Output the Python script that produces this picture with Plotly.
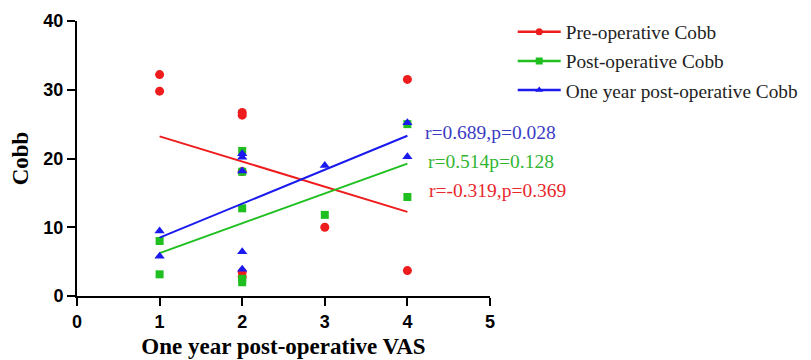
import numpy as np
import plotly.graph_objects as go

# One year post-operative VAS for each of the 10 patients
vas = [1, 1, 2, 2, 2, 2, 2, 3, 4, 4]

pre_cobb = [32.2, 29.8, 26.7, 26.3, 18.1, 3.5, 2.8, 10.0, 31.5, 3.7]
post_cobb = [8.0, 3.15, 21.1, 18.07, 12.75, 2.5, 2.0, 11.8, 25.0, 14.4]
year_cobb = [9.45, 5.8, 20.2, 18.2, 6.45, 3.9, 20.7, 19.0, 25.2, 20.25]

series_names = ["Pre-operative Cobb", "Post-operative Cobb", "One year post-operative Cobb"]
series_values = [pre_cobb, post_cobb, year_cobb]
series_colors = ["#ee1c1c", "#1fbf1f", "#1a1aee"]
text_colors = ["#e8282d", "#33b533", "#3b3bc4"]
series_symbols = ["circle", "square", "triangle-up"]
marker_sizes = [9, 8, 9]
stat_labels = ["r=-0.319,p=0.369", "r=0.514p=0.128", "r=0.689,p=0.028"]
stat_pos_y = [15.3, 19.5, 23.75]
stat_pos_x = [4.24, 4.23, 4.19]

x_ticks = [0, 1, 2, 3, 4, 5]
y_ticks = [0, 10, 20, 30, 40]

fig = go.Figure()
xs = np.array(vas, dtype=float)
xfit = np.array([xs.min(), xs.max()])

for i, (name, vals) in enumerate(zip(series_names, series_values)):
    c = series_colors[i]
    fig.add_trace(go.Scatter(
        x=vas, y=vals, mode="markers", showlegend=False,
        marker=dict(color=c, symbol=series_symbols[i], size=marker_sizes[i],
                    line=dict(width=0)),
        cliponaxis=False))
    slope, icpt = np.polyfit(xs, np.array(vals), 1)
    fig.add_trace(go.Scatter(
        x=xfit, y=slope * xfit + icpt, mode="lines", showlegend=False,
        line=dict(color=c, width=2)))

for i, name in enumerate(series_names):
    fig.add_trace(go.Scatter(
        x=[None], y=[None], mode="lines+markers", name=name,
        legendgroup=name,
        line=dict(color=series_colors[i], width=2.5),
        marker=dict(color=series_colors[i], symbol=series_symbols[i], size=7)))

for i, lab in enumerate(stat_labels):
    fig.add_annotation(x=stat_pos_x[i], y=stat_pos_y[i], xref="x", yref="y",
                       text=lab, showarrow=False, xanchor="left", yanchor="middle",
                       font=dict(family="Liberation Serif", size=19.5, color=text_colors[i]))

fig.update_layout(
    width=803, height=352,
    margin=dict(l=69, r=321, t=13, b=64, autoexpand=False),
    plot_bgcolor="white", paper_bgcolor="white",
    legend=dict(x=1.055, y=1.03, xanchor="left", yanchor="top",
                font=dict(family="Liberation Serif", size=19.3, color="#222"),
                tracegroupgap=1, itemwidth=43, bgcolor="rgba(0,0,0,0)"),
    xaxis=dict(range=[0, 5], tickvals=x_ticks, ticks="outside", ticklen=8, tickwidth=2,
               tickcolor="black", showline=True, linecolor="black", linewidth=2,
               showgrid=False, zeroline=False, automargin=False,
               tickfont=dict(family="Liberation Sans", size=18, color="black", weight="bold"),
               title=dict(text="One year post-operative VAS", standoff=7,
                          font=dict(family="Liberation Serif", size=23, color="black", weight="bold"))),
    yaxis=dict(range=[0, 40], tickvals=y_ticks, ticks="outside", ticklen=8, tickwidth=2,
               tickcolor="black", showline=True, linecolor="black", linewidth=2,
               showgrid=False, zeroline=False, automargin=False,
               tickfont=dict(family="Liberation Sans", size=18, color="black", weight="bold"),
               title=dict(text="Cobb", standoff=9,
                          font=dict(family="Liberation Serif", size=23, color="black", weight="bold"))),
)

fig.write_html("out.html")
